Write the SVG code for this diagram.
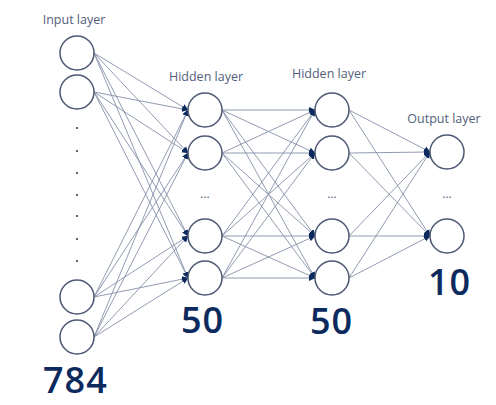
<svg xmlns="http://www.w3.org/2000/svg" width="496" height="405" viewBox="0 0 496 405">
<defs>
<style>
.n{fill:#fff;stroke:#4d5873;stroke-width:1.5}
.e line{stroke:#8590a8;stroke-width:0.9;marker-end:url(#a)}
.lab{font-family:"Open Sans","Noto Sans",sans-serif;font-size:12.5px;fill:#52607c;text-anchor:middle}
.num{font-family:"Open Sans","Noto Sans",sans-serif;font-size:36px;font-weight:600;letter-spacing:1px;fill:#0c2a5e}
.dots{font-family:"Open Sans",sans-serif;font-size:12px;fill:#56627e;text-anchor:middle}
.vd{fill:#444}
</style>
<marker id="a" markerWidth="7" markerHeight="7" refX="6" refY="3.5" orient="auto" markerUnits="userSpaceOnUse">
<path d="M0,0.5 L6.5,3.5 L0,6.5 z" fill="#0c2a5e"/>
</marker>
</defs>
<rect width="496" height="405" fill="#fff"/>
<g id="connectors" class="e">
<line x1="94" y1="53" x2="188" y2="110"/>
<line x1="94" y1="53" x2="188" y2="153"/>
<line x1="94" y1="53" x2="188" y2="236"/>
<line x1="94" y1="53" x2="188" y2="278"/>
<line x1="94" y1="92" x2="188" y2="110"/>
<line x1="94" y1="92" x2="188" y2="153"/>
<line x1="94" y1="92" x2="188" y2="236"/>
<line x1="94" y1="92" x2="188" y2="278"/>
<line x1="94" y1="297" x2="188" y2="110"/>
<line x1="94" y1="297" x2="188" y2="153"/>
<line x1="94" y1="297" x2="188" y2="236"/>
<line x1="94" y1="297" x2="188" y2="278"/>
<line x1="94" y1="337" x2="188" y2="110"/>
<line x1="94" y1="337" x2="188" y2="153"/>
<line x1="94" y1="337" x2="188" y2="236"/>
<line x1="94" y1="337" x2="188" y2="278"/>
<line x1="222" y1="110" x2="315" y2="110"/>
<line x1="222" y1="110" x2="315" y2="153"/>
<line x1="222" y1="110" x2="315" y2="236"/>
<line x1="222" y1="110" x2="315" y2="278"/>
<line x1="222" y1="153" x2="315" y2="110"/>
<line x1="222" y1="153" x2="315" y2="153"/>
<line x1="222" y1="153" x2="315" y2="236"/>
<line x1="222" y1="153" x2="315" y2="278"/>
<line x1="222" y1="236" x2="315" y2="110"/>
<line x1="222" y1="236" x2="315" y2="153"/>
<line x1="222" y1="236" x2="315" y2="236"/>
<line x1="222" y1="236" x2="315" y2="278"/>
<line x1="222" y1="278" x2="315" y2="110"/>
<line x1="222" y1="278" x2="315" y2="153"/>
<line x1="222" y1="278" x2="315" y2="236"/>
<line x1="222" y1="278" x2="315" y2="278"/>
<line x1="349" y1="110" x2="430" y2="152"/>
<line x1="349" y1="110" x2="430" y2="236"/>
<line x1="349" y1="153" x2="430" y2="152"/>
<line x1="349" y1="153" x2="430" y2="236"/>
<line x1="349" y1="236" x2="430" y2="152"/>
<line x1="349" y1="236" x2="430" y2="236"/>
<line x1="349" y1="278" x2="430" y2="152"/>
<line x1="349" y1="278" x2="430" y2="236"/>
</g>
<g id="input-layer">
<text class="lab" x="74" y="24">Input layer</text>
<circle class="n" cx="77" cy="53" r="17"/>
<circle class="n" cx="77" cy="92" r="17"/>
<circle class="vd" cx="77" cy="128" r="1.1"/>
<circle class="vd" cx="77" cy="151" r="1.1"/>
<circle class="vd" cx="77" cy="173" r="1.1"/>
<circle class="vd" cx="77" cy="195" r="1.1"/>
<circle class="vd" cx="77" cy="216" r="1.1"/>
<circle class="vd" cx="77" cy="239" r="1.1"/>
<circle class="vd" cx="77" cy="261" r="1.1"/>
<circle class="n" cx="77" cy="297" r="17"/>
<circle class="n" cx="77" cy="337" r="17"/>
<text class="num" x="43" y="393">784</text>
</g>
<g id="hidden-layer-1">
<text class="lab" x="206" y="81">Hidden layer</text>
<circle class="n" cx="205" cy="110" r="17"/>
<circle class="n" cx="205" cy="153" r="17"/>
<text class="dots" x="205" y="198">...</text>
<circle class="n" cx="205" cy="236" r="17"/>
<circle class="n" cx="205" cy="278" r="17"/>
<text class="num" x="181" y="333">50</text>
</g>
<g id="hidden-layer-2">
<text class="lab" x="329" y="78">Hidden layer</text>
<circle class="n" cx="332" cy="110" r="17"/>
<circle class="n" cx="332" cy="153" r="17"/>
<text class="dots" x="332" y="198">...</text>
<circle class="n" cx="332" cy="236" r="17"/>
<circle class="n" cx="332" cy="278" r="17"/>
<text class="num" x="310" y="334">50</text>
</g>
<g id="output-layer">
<text class="lab" x="444" y="123">Output layer</text>
<circle class="n" cx="447" cy="152" r="17"/>
<text class="dots" x="447" y="198">...</text>
<circle class="n" cx="447" cy="236" r="17"/>
<text class="num" x="428" y="295">10</text>
</g>
</svg>
